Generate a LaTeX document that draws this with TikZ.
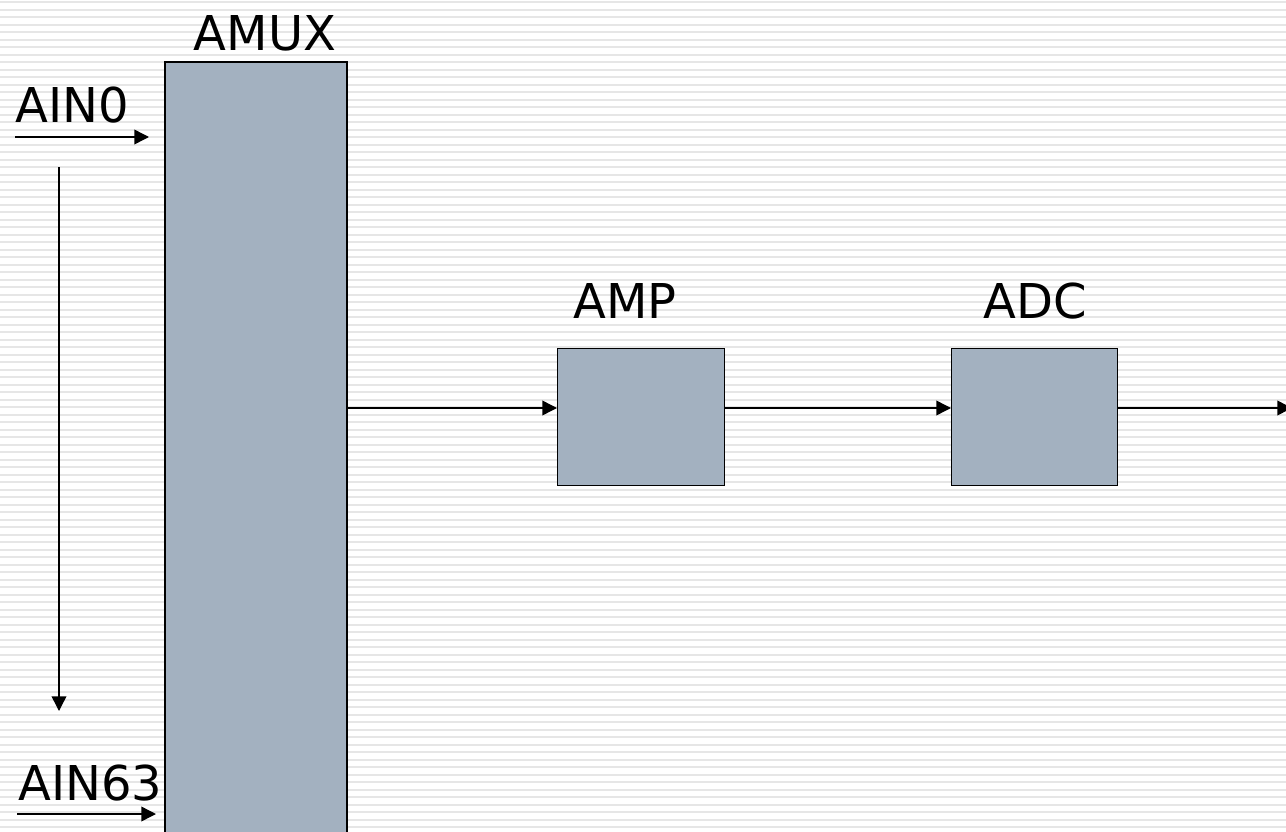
\documentclass[tikz,border=0pt]{standalone}
\usepackage{fontspec}
\setmainfont{DejaVu Sans}
\usetikzlibrary{arrows.meta}
\definecolor{blockfill}{HTML}{A3B1C0}
\definecolor{stripe}{HTML}{E6E6E6}
\tikzset{
  blockbox/.style={draw=black, line width=1.1pt, fill=blockfill, inner sep=0pt},
  label/.style={font=\fontsize{36}{40}\selectfont, inner sep=0pt},
  sig/.style={line width=1.1pt, -{Triangle[length=11pt,width=11pt]}},
}
\begin{document}
\begin{tikzpicture}[x=0.75pt,y=-0.75pt]
  \useasboundingbox (0,0) rectangle (1286,832);
  \fill[white] (0,0) rectangle (1286,832);
  % striped background
  \foreach \i in {0,...,111}
    \fill[stripe] (0,{1+7.5*\i}) rectangle (1286,{3+7.5*\i});

  % blocks
  \path[blockbox] (165,62) rectangle (347,840);
  \coordinate (amuxOut) at (347,408);
  \node[blockbox, minimum width=125.25pt, minimum height=102.75pt, anchor=north west] (amp) at (557,348) {};
  \node[blockbox, minimum width=124.5pt, minimum height=102.75pt, anchor=north west] (adc) at (951,348) {};

  % titles
  \node[label, anchor=base] (tmux) at (265,50) {AMUX};
  \node[label, anchor=base] (tamp) at (625,318) {AMP};
  \node[label, anchor=base] (tadc) at (1035,318) {ADC};
  \node[label, anchor=base west] (tin0) at (15,122) {AIN0};
  \node[label, anchor=base west] (tin63) at (18,800) {AIN63};

  % inputs
  \coordinate (in0s) at (15,137);
  \coordinate (in0e) at (149,137);
  \coordinate (in63s) at (17,814);
  \coordinate (in63e) at (156,814);
  \coordinate (scanS) at (59,167);
  \coordinate (scanE) at (59,711);
  \draw[sig] (in0s) -- (in0e);
  \draw[sig] (in63s) -- (in63e);
  \draw[sig] (scanS) -- (scanE);

  % signal chain, all on the same level
  \coordinate (out) at (1292,408);
  \draw[sig] (amuxOut) -- (amuxOut -| amp.west);
  \draw[sig] (amuxOut -| amp.east) -- (amuxOut -| adc.west);
  \draw[sig] (amuxOut -| adc.east) -- (out);
\end{tikzpicture}
\end{document}
